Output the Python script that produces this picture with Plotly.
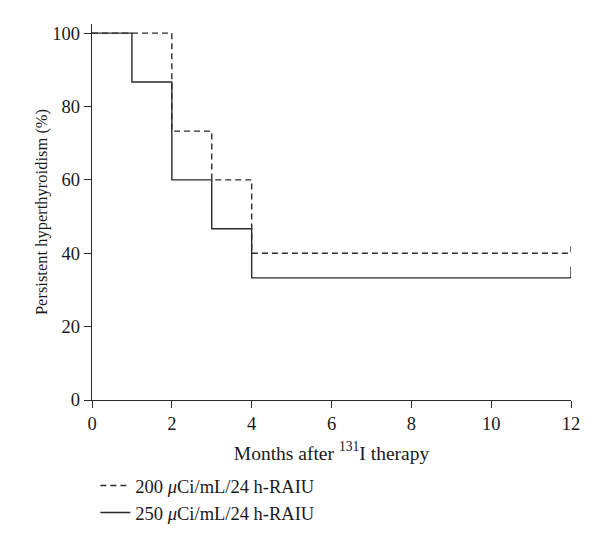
"""Kaplan-Meier style step chart of persistent hyperthyroidism."""

from plotly import graph_objects as go

months_200 = [0, 2, 3, 4, 12]
persist_200 = [100, 73.3, 60, 40, 40]

months_250 = [0, 1, 2, 3, 4, 12]
persist_250 = [100, 86.7, 60, 46.7, 33.3, 33.3]

labels = ["200 <i>μ</i>Ci/mL/24 h-RAIU", "250 <i>μ</i>Ci/mL/24 h-RAIU"]

CENSOR_TICK = 3  # height of the censor mark at the last point


def with_censor(x: list, y: list) -> tuple[list, list]:
    """Append a small upward censor mark at the final point."""
    return x + [x[-1]], y + [y[-1] + CENSOR_TICK]


FONT = "Liberation Serif"
INK = "#2b2b2b"
TEXT = "#1a1a1a"

fig = go.Figure()
for months, persist, label, dash in [
    (months_200, persist_200, labels[0], "6px,4px"),
    (months_250, persist_250, labels[1], "solid"),
]:
    x, y = with_censor(months, persist)
    fig.add_trace(
        go.Scatter(
            x=x,
            y=y,
            mode="lines",
            line_shape="hv",
            line={"color": INK, "width": 1.4, "dash": dash},
            name=label,
        )
    )

axis_style = dict(
    showline=True,
    linecolor=INK,
    linewidth=1.4,
    ticks="outside",
    ticklen=7,
    tickcolor=INK,
    tickwidth=1.4,
    showgrid=False,
    zeroline=False,
    automargin=False,
    tickfont={"family": FONT, "size": 18.5, "color": TEXT},
)

fig.update_xaxes(
    range=[0, 12],
    tickvals=[0, 2, 4, 6, 8, 10, 12],
    title={
        "text": "Months after <sup>131</sup>I therapy",
        "font": {"family": FONT, "size": 19.5, "color": TEXT},
        "standoff": 12,
    },
    **axis_style,
)
fig.update_yaxes(
    range=[0, 102.5],
    tickvals=[0, 20, 40, 60, 80, 100],
    title={
        "text": "Persistent hyperthyroidism (%)",
        "font": {"family": FONT, "size": 16.5, "color": TEXT},
        "standoff": 0,
    },
    **axis_style,
)

# the page body adds an 8px offset, so margins are shifted to compensate
fig.update_layout(
    width=600,
    height=545,
    margin={"l": 84, "r": 37, "t": 16, "b": 153, "autoexpand": False},
    plot_bgcolor="white",
    paper_bgcolor="white",
    showlegend=True,
    legend={
        "x": 0.007,
        "y": -0.178,
        "xanchor": "left",
        "yanchor": "top",
        "font": {"family": FONT, "size": 18.5, "color": TEXT},
        "tracegroupgap": 0,
        "itemwidth": 30,
        "bgcolor": "rgba(0,0,0,0)",
    },
)

fig.write_html("out.html")
